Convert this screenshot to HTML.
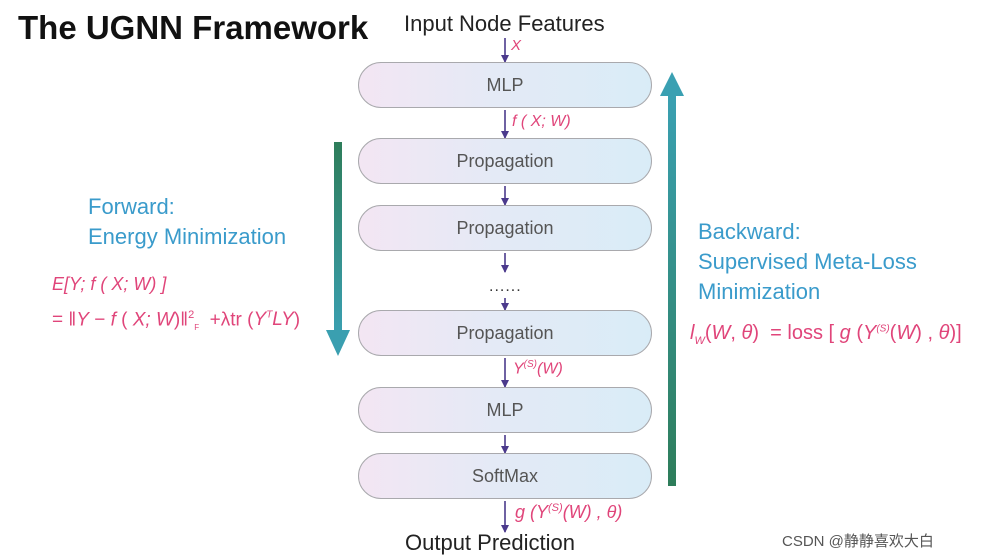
<!DOCTYPE html>
<html><head><meta charset="utf-8"><style>
body{margin:0;width:986px;height:556px;background:#fff;position:relative;overflow:hidden;font-family:"Liberation Sans",sans-serif}
.box{position:absolute;left:358px;width:292px;height:44px;border:1.5px solid #a9a9ad;border-radius:23px;background:linear-gradient(90deg,#f3e6f3,#e3eaf6 50%,#d9ecf7);text-align:center;line-height:44px;font-size:18px;color:#555}
.t{position:absolute;white-space:nowrap}
.pk{color:#e0457a;font-style:italic;font-size:15px}
.bl{color:#3a9bcb;font-size:22px;line-height:30px}
</style></head><body>
<div class="t" style="left:18px;top:9px;font-size:33px;font-weight:bold;color:#111">The UGNN Framework</div>
<div class="t" style="left:404px;top:11px;font-size:22px;color:#222">Input Node Features</div>
<div class="t" style="left:405px;top:530px;font-size:22px;color:#222">Output Prediction</div>
<svg width="986" height="556" style="position:absolute;left:0;top:0">
<defs>
<marker id="a" markerWidth="8" markerHeight="8" refX="7" refY="4" orient="auto" markerUnits="userSpaceOnUse"><path d="M0,0L8,4L0,8z" fill="#4b3a8c"/></marker>
<linearGradient id="g1" x1="0" y1="0" x2="0" y2="1"><stop offset="0" stop-color="#2e7d5a"/><stop offset="1" stop-color="#3a9fb0"/></linearGradient>
<linearGradient id="g2" x1="0" y1="0" x2="0" y2="1"><stop offset="0" stop-color="#3aa0b2"/><stop offset="1" stop-color="#2e7d5a"/></linearGradient>
</defs>
<g stroke="#4b3a8c" stroke-width="1.6" marker-end="url(#a)">
<line x1="505" y1="38" x2="505" y2="62"/>
<line x1="505" y1="110" x2="505" y2="138"/>
<line x1="505" y1="186" x2="505" y2="205"/>
<line x1="505" y1="253" x2="505" y2="272"/>
<line x1="505" y1="298" x2="505" y2="310"/>
<line x1="505" y1="358" x2="505" y2="387"/>
<line x1="505" y1="435" x2="505" y2="453"/>
<line x1="505" y1="501" x2="505" y2="532"/>
</g>
<rect x="334" y="142" width="8" height="190" fill="url(#g1)"/>
<path d="M326,330L350,330L338,356z" fill="#3a9fb0"/>
<rect x="668" y="94" width="8" height="392" fill="url(#g2)"/>
<path d="M660,96L684,96L672,72z" fill="#3aa0b2"/>
</svg>
<div class="box" style="top:62px">MLP</div>
<div class="box" style="top:138px">Propagation</div>
<div class="box" style="top:205px">Propagation</div>
<div class="t" style="left:489px;top:278px;font-size:16px;color:#333;letter-spacing:1px">......</div>
<div class="box" style="top:310px">Propagation</div>
<div class="box" style="top:387px">MLP</div>
<div class="box" style="top:453px">SoftMax</div>
<div class="t pk" style="left:511px;top:37px;font-size:15px">X</div>
<div class="t pk" style="left:512px;top:113px;font-size:16px">f ( X; W)</div>
<div class="t pk" style="left:513px;top:359px;font-size:16px">Y<sup style="font-size:10px">(S)</sup>(W)</div>
<div class="t pk" style="left:515px;top:502px;font-size:18px">g (Y<sup style="font-size:11px">(S)</sup>(W) , θ)</div>
<div class="t bl" style="left:88px;top:192px;font-size:22px">Forward:<br>Energy Minimization</div>
<div class="t pk" style="left:52px;top:274px;font-size:18px">E[Y; f ( X; W) ]</div>
<div class="t pk" style="left:52px;top:309px;font-size:19px;font-style:normal">= ‖<i>Y</i> − <i>f</i> ( <i>X; W</i>)‖<sup style="font-size:11px">2</sup><sub style="font-size:8px">F</sub> &nbsp;+λtr (<i>Y<sup style="font-size:10px">T</sup>LY</i>)</div>
<div class="t bl" style="left:698px;top:217px">Backward:<br>Supervised Meta-Loss<br>Minimization</div>
<div class="t pk" style="left:690px;top:322px;font-size:20px;font-style:normal"><i>l<sub style="font-size:11px">W</sub></i>(<i>W</i>, <i>θ</i>) &nbsp;= loss [ <i>g</i> (<i>Y<sup style="font-size:10px">(S)</sup></i>(<i>W</i>) , <i>θ</i>)]</div>
<div class="t" style="left:782px;top:530px;font-size:15px;color:#555">CSDN @静静喜欢大白</div>
</body></html>
